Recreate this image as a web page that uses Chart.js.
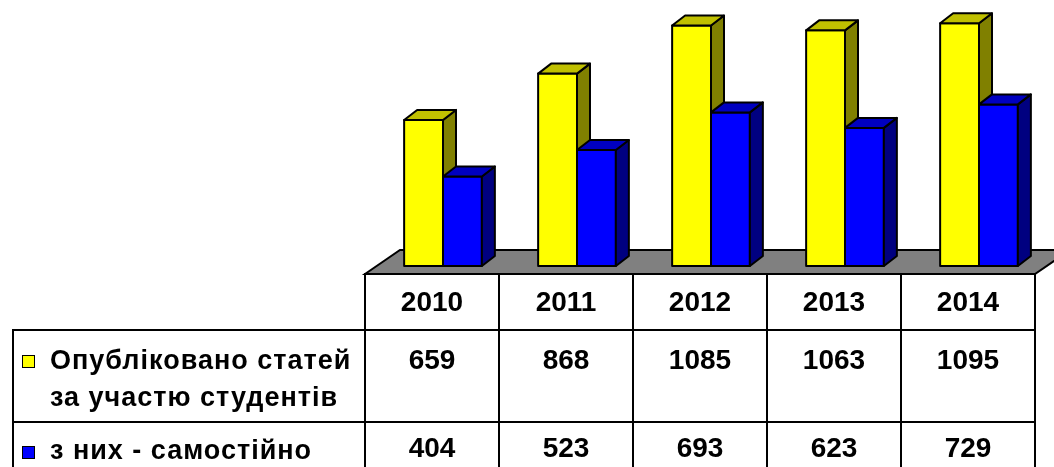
<!doctype html>
<html lang="uk">
<head>
<meta charset="utf-8">
<script src="https://cdn.jsdelivr.net/npm/chart.js"></script>
<style>
html, body { margin: 0; padding: 0; background: #ffffff; overflow: hidden; }
#wrap { position: relative; width: 1054px; height: 467px; overflow: hidden; }
#chart { position: absolute; left: 0; top: 0; }
#tbl {
    position: absolute; left: 12px; top: 273px;
    border-collapse: collapse; table-layout: fixed;
    font: bold 28px "Liberation Sans", Arial, sans-serif; color: #000;
}
#tbl td { border: 2px solid #000; padding: 0; text-align: center; }
#tbl tr.head td { height: 54px; vertical-align: middle; }
#tbl tr.row td { vertical-align: top; line-height: 32px; }
#tbl tr.r0 td { height: 77px; padding-top: 13px; }
#tbl tr.r1 td { height: 81px; padding-top: 9px; }
#tbl td.corner { border-top: hidden; border-left: hidden; }
#tbl td.lab { text-align: left; padding-left: 8px; }
.lab .box { display: flex; align-items: flex-start; }
.lab .txt { font-size: 27px; letter-spacing: 1px; line-height: 37px; margin-top: -2px; }
.r1 .lab .txt { margin-top: 0; }
.key { flex: none; box-sizing: border-box; width: 13px; height: 13px; border: 1.5px solid #000; margin: 11px 15px 0 0; }
.r1 .key { margin-top: 14px; }
</style>
</head>
<body>
<div id="wrap">
    <canvas id="chart" width="1054" height="467"></canvas>
    <table id="tbl">
        <colgroup><col style="width:352px"><col style="width:134px"><col style="width:134px"><col style="width:134px"><col style="width:134px"><col style="width:134px"></colgroup>
        <tbody id="tbody"></tbody>
    </table>
</div>
<script>
const years = ['2010', '2011', '2012', '2013', '2014'];
const published = [659, 868, 1085, 1063, 1095];
const independent = [404, 523, 693, 623, 729];
const seriesNames = ['Опубліковано статей<br>за участю студентів', 'з них - самостійно'];
const frontColors = ['#ffff00', '#0000ff'];
const sideColors = ['#808000', '#000080'];
const topColors = ['#c0c000', '#0000c0'];

// depth of bars, in pixels
const DX = 13, DY = -10;

function face(ctx, pts, fill) {
    ctx.beginPath();
    ctx.moveTo(pts[0][0], pts[0][1]);
    for (let k = 1; k < pts.length; k++) ctx.lineTo(pts[k][0], pts[k][1]);
    ctx.closePath();
    ctx.fillStyle = fill;
    ctx.fill();
    ctx.stroke();
}

const bar3d = {
    id: 'bar3d',
    beforeDatasetsDraw(chart) {
        const ctx = chart.ctx;
        const a = chart.chartArea;
        const y0 = chart.scales.y.getPixelForValue(0);
        const l = a.left - 11, r = a.right - 11, f = y0 + 8;
        ctx.save();
        ctx.lineWidth = 2;
        ctx.strokeStyle = '#000';
        face(ctx, [[l, f], [l + 35, f - 24], [r + 35, f - 24], [r, f]], '#808080');
        ctx.restore();
    },
    afterDatasetsDraw(chart) {
        const ctx = chart.ctx;
        ctx.save();
        ctx.lineWidth = 2;
        ctx.strokeStyle = '#000';
        ctx.lineJoin = 'round';
        // yellow first, blue after so it covers the yellow side face
        [0, 1].forEach(i => {
            chart.getDatasetMeta(i).data.forEach(el => {
                const p = el.getProps(['x', 'y', 'base', 'width'], true);
                const L = p.x - p.width / 2, R = p.x + p.width / 2;
                face(ctx, [[L, p.y], [R, p.y], [R, p.base], [L, p.base]], frontColors[i]);
                face(ctx, [[R, p.y], [R + DX, p.y + DY], [R + DX, p.base + DY], [R, p.base]], sideColors[i]);
                face(ctx, [[L, p.y], [L + DX, p.y + DY], [R + DX, p.y + DY], [R, p.y]], topColors[i]);
            });
        });
        ctx.restore();
    }
};

new Chart(document.getElementById('chart'), {
    type: 'bar',
    data: {
        labels: years,
        datasets: [
            { label: seriesNames[0], data: published, backgroundColor: 'rgba(0,0,0,0)', borderWidth: 0 },
            { label: seriesNames[1], data: independent, backgroundColor: 'rgba(0,0,0,0)', borderWidth: 0 }
        ]
    },
    options: {
        responsive: false,
        animation: false,
        layout: { padding: { left: 376, right: 8, top: 0, bottom: 201 } },
        datasets: { bar: { categoryPercentage: 0.58, barPercentage: 1 } },
        plugins: { legend: { display: false }, tooltip: { enabled: false } },
        scales: {
            x: { display: false },
            y: { display: false, min: 0, max: 1200 }
        }
    },
    plugins: [bar3d]
});

// data table under the chart
const tbody = document.getElementById('tbody');
let html = '<tr class="head"><td class="corner"></td>' + years.map(y => '<td>' + y + '</td>').join('') + '</tr>';
[published, independent].forEach((vals, i) => {
    html += '<tr class="row r' + i + '"><td class="lab"><div class="box"><span class="key" style="background:' + frontColors[i] + '"></span>' +
        '<span class="txt">' + seriesNames[i] + '</span></div></td>' +
        vals.map(v => '<td>' + v + '</td>').join('') + '</tr>';
});
tbody.innerHTML = html;
</script>
</body>
</html>
